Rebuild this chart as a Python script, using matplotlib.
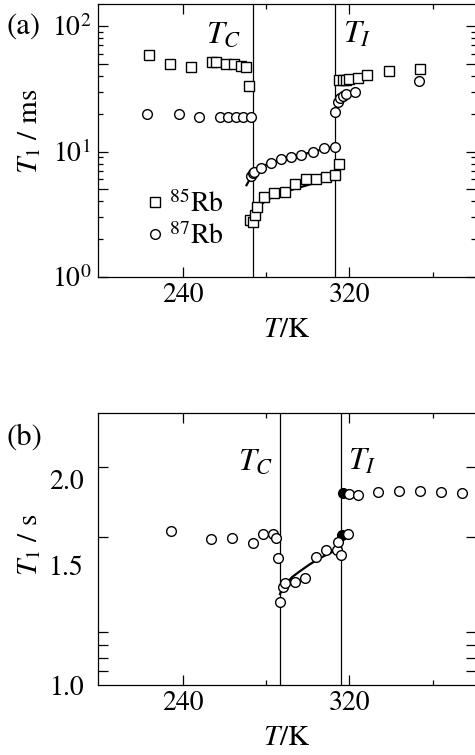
import matplotlib.pyplot as plt
import numpy as np
from matplotlib.ticker import FixedLocator, FixedFormatter

plt.rcParams['font.family'] = 'STIXGeneral'
plt.rcParams['mathtext.fontset'] = 'stix'

# ---------------- data ----------------
# (a) T1 in ms, squares = 85Rb, circles = 87Rb
a_sq_T = [223.9, 233.9, 243.8, 253.9, 256.0, 260.8, 264.7, 268.2, 270.3, 271.8,
          272.2, 273.5, 274.6, 275.7, 279.0, 283.7, 288.9, 293.7, 299.0, 304.1, 308.9, 313.3, 315.2,
          315.2, 316.8, 318.4, 320.0, 324.0, 328.7, 339.1, 353.9]
a_sq_T1 = [58.8, 49.8, 47.4, 51.4, 51.4, 49.7, 49.7, 48.0, 47.4, 33.4,
           2.83, 2.75, 3.11, 3.62, 4.35, 4.63, 4.77, 5.46, 6.02, 6.02, 6.28, 6.48, 7.89,
           37.1, 37.1, 37.1, 37.6, 38.7, 40.7, 43.6, 45.5]
a_ci_T = [222.9, 238.2, 248.0, 257.8, 261.7, 265.5, 269.1, 272.7,
          272.8, 273.5, 274.3, 277.8, 282.6, 287.3, 292.1, 296.9, 302.5, 308.0, 313.3,
          313.1, 314.4, 315.7, 317.1, 318.4, 322.6, 353.5]
a_ci_T1 = [19.9, 19.9, 18.9, 18.9, 18.9, 18.9, 18.9, 18.9,
           6.4, 6.69, 6.85, 7.41, 8.04, 8.65, 9.07, 9.36, 9.95, 10.6, 10.9,
           20.6, 24.6, 26.9, 27.9, 28.7, 29.6, 36.5]
# fitted curves in (a)
a_fit85_T = [272.5, 273.8, 276.1, 280.2, 286.5, 294.5, 302.5, 310.4, 313.6]
a_fit85_T1 = [2.83, 3.21, 3.62, 4.09, 4.63, 5.08, 5.56, 6.02, 6.28]
a_fit87_T = [270.6, 274.6, 278.5, 286.5, 294.5, 302.5, 310.4, 313.3]
a_fit87_T1 = [5.39, 7.11, 7.69, 8.54, 9.19, 9.95, 10.7, 10.98]
a_TC, a_TI = 273.9, 313.3

# (b) T1 in s
b_T = [234.4, 253.6, 263.5, 273.6, 278.7, 283.5, 284.8, 285.6, 286.7, 288.3, 289.1,
       293.9, 298.7, 303.9, 308.8, 314.2, 314.4, 315.9, 319.5,
       320.0, 324.3, 333.9, 344.0, 353.9, 363.9, 373.9]
b_T1 = [1.681, 1.635, 1.644, 1.616, 1.663, 1.663, 1.640, 1.534, 1.325, 1.394, 1.410,
        1.417, 1.434, 1.542, 1.577, 1.577, 1.622, 1.551, 1.664,
        1.905, 1.898, 1.919, 1.924, 1.924, 1.919, 1.909]
b_filled_T = [316.3, 317.1]
b_filled_T1 = [1.659, 1.909]
b_fit_T = [286.7, 287.8, 289.1, 292.5, 296.3, 301.1, 305.9, 310.7, 316.0]
b_fit_T1 = [1.360, 1.385, 1.402, 1.440, 1.469, 1.504, 1.535, 1.561, 1.590]
b_TC, b_TI = 286.7, 315.9

x_major = [240, 320]
x_minor = [280, 360]
a_y_major = [1, 5, 10, 50, 100]
a_y_labels = ['$10^0$', '', '$10^1$', '', '$10^2$']
a_y_minor = [2, 3, 4, 6, 7, 8, 9, 20, 30, 40, 60, 70, 80, 90]
b_y_major = [1.0, 1.5, 2.0]
b_y_labels = ['1.0', '1.5', '2.0']
b_y_marks = [1.049, 1.095, 1.145, 1.195, 1.649, 2.087]


def style_axes(ax):
    ax.set_xlim(199.3, 380.8)
    ax.xaxis.set_major_locator(FixedLocator(x_major))
    ax.xaxis.set_minor_locator(FixedLocator(x_minor))
    ax.tick_params(which='both', direction='in', top=True, right=True,
                   labelsize=20, width=0.9)
    ax.tick_params(which='major', length=7.2)
    ax.tick_params(which='minor', length=3.6)
    ax.tick_params(axis='x', pad=4)
    for s in ax.spines.values():
        s.set_linewidth(0.9)


fig = plt.figure(figsize=(4.75, 7.55), dpi=100)
ax1 = fig.add_axes([98 / 475, 1 - 277 / 755, 378 / 475, 272.7 / 755])
ax2 = fig.add_axes([98 / 475, 1 - 685.3 / 755, 378 / 475, 272 / 755])

# panel (a)
ax1.set_yscale('log')
ax1.set_ylim(1, 149)
ax1.axvline(a_TC, color='k', lw=0.9)
ax1.axvline(a_TI, color='k', lw=0.9)
ax1.plot(a_fit85_T, a_fit85_T1, 'k-', lw=1.6)
ax1.plot(a_fit87_T, a_fit87_T1, 'k-', lw=1.6)
ax1.plot(a_sq_T, a_sq_T1, 's', ms=7.4, mfc='white', mec='k', mew=1.0,
         ls='none', label='$^{85}$Rb')
ax1.plot(a_ci_T, a_ci_T1, 'o', ms=7.0, mfc='white', mec='k', mew=1.0,
         ls='none', label='$^{87}$Rb')
style_axes(ax1)
ax1.yaxis.set_major_locator(FixedLocator(a_y_major))
ax1.yaxis.set_major_formatter(FixedFormatter(a_y_labels))
ax1.yaxis.set_minor_locator(FixedLocator(a_y_minor))
ax1.yaxis.set_minor_formatter(FixedFormatter([''] * len(a_y_minor)))
ax1.tick_params(axis='y', pad=5)
ax1.text(251.0, 85, '$T_C$', fontsize=23, va='center', ha='left')
ax1.text(317.0, 85, '$T_I$', fontsize=23, va='center', ha='left')
ax1.legend(loc='upper left', bbox_to_anchor=(0.123, 0.318), frameon=False,
           fontsize=20, handlelength=0.75, handletextpad=0.12, borderpad=0,
           borderaxespad=0, labelspacing=0.17)

# panel (b)
ax2.set_yscale('log')
ax2.set_ylim(1.0, 2.5)
ax2.axvline(b_TC, color='k', lw=0.9)
ax2.axvline(b_TI, color='k', lw=0.9)
ax2.plot(b_fit_T, b_fit_T1, 'k-', lw=1.6)
ax2.plot(b_filled_T, b_filled_T1, 'o', ms=7.0, mfc='k', mec='k', mew=1.0, ls='none')
ax2.plot(b_T, b_T1, 'o', ms=7.0, mfc='white', mec='k', mew=1.0, ls='none')
style_axes(ax2)
ax2.yaxis.set_major_locator(FixedLocator(b_y_major))
ax2.yaxis.set_major_formatter(FixedFormatter(b_y_labels))
ax2.yaxis.set_minor_locator(FixedLocator(b_y_marks))
ax2.yaxis.set_minor_formatter(FixedFormatter([''] * len(b_y_marks)))
ax2.tick_params(axis='y', which='major', length=0, pad=10)
ax2.tick_params(axis='y', which='minor', length=7.2)
ax2.text(266.5, 2.12, '$T_C$', fontsize=23, va='center', ha='left')
ax2.text(319.5, 2.12, '$T_I$', fontsize=23, va='center', ha='left')

# panel letters and axis titles
fig.text(7 / 475, 1 - 27 / 755, '(a)', fontsize=22, va='center', ha='left')
fig.text(7 / 475, 1 - 438 / 755, '(b)', fontsize=22, va='center', ha='left')
fig.text(30 / 475, 1 - 131 / 755, '$T_1$ / ms', fontsize=21, rotation=90,
         va='center', ha='center')
fig.text(30 / 475, 1 - 545 / 755, '$T_1$ / s', fontsize=21, rotation=90,
         va='center', ha='center')
fig.text(287 / 475, 1 - 330 / 755, '$T$/K', fontsize=21, va='center', ha='center')
fig.text(287 / 475, 1 - 738 / 755, '$T$/K', fontsize=21, va='center', ha='center')

fig.savefig('out.png', dpi=100)
